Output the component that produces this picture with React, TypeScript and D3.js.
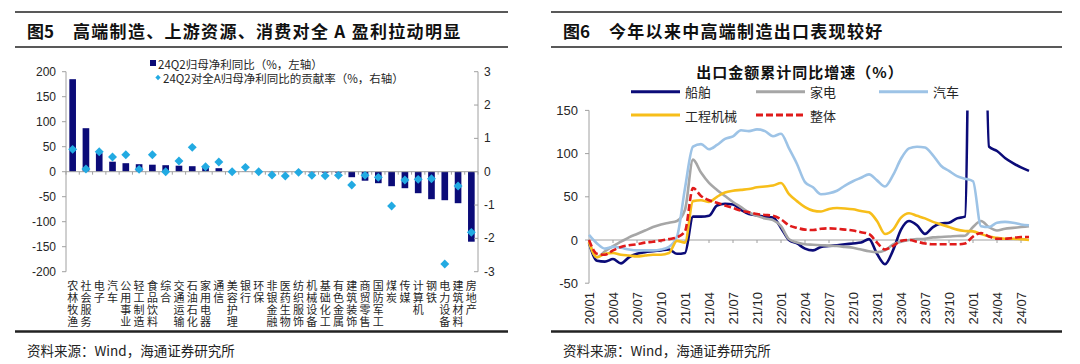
import * as d3 from 'd3'

// ---------- 图5 data ----------
const industries = [
  '农林牧渔', '社会服务', '电子', '汽车', '公用事业', '轻工制造', '食品饮料', '综合', '交通运输', '石油石化',
  '家用电器', '通信', '美容护理', '银行', '环保', '非银金融', '医药生物', '纺织服饰', '机械设备', '基础化工',
  '有色金属', '建筑装饰', '商贸零售', '国防军工', '煤炭', '传媒', '计算机', '钢铁', '电力设备', '建筑材料', '房地产',
]
// 24Q2 归母净利同比 (%, left axis)
const profitYoY = [
  185, 87, 37, 20, 17, 15, 14, 13, 12, 11,
  10, 7, 1, 0.5, 0.3, -1, -1, -1, -1.5, -2,
  -2, -11, -18, -23, -29, -33, -43, -55, -57, -63, -140,
]
// 24Q2 对全A归母净利同比的贡献率 (%, right axis)
const contribution = [
  0.67, 0.08, 0.6, 0.44, 0.51, 0.07, 0.51, 0.0, 0.32, 0.73,
  0.15, 0.29, 0.0, 0.13, 0.0, -0.1, -0.13, -0.02, -0.11, -0.12,
  -0.11, -0.4, -0.11, -0.17, -1.03, -0.25, -0.23, -0.21, -2.77, -0.43, -1.82,
]
const leftAxisTicks = [200, 150, 100, 50, 0, -50, -100, -150, -200]
const rightAxisTicks = [3, 2, 1, 0, -1, -2, -3]

// ---------- 图6 data (monthly, 20/01 .. 24/08) ----------
const monthTickLabels = [
  '20/01', '20/04', '20/07', '20/10', '21/01', '21/04', '21/07', '21/10', '22/01', '22/04',
  '22/07', '22/10', '23/01', '23/04', '23/07', '23/10', '24/01', '24/04', '24/07',
]
const ship = [
  -3, -24, -25, -22, -27, -20, -16, -14, -13, -12, -11, -16, -15, 27, 27, 28, 40, 42, 41, 35,
  30, 28.5, 27, 26, 14, 0, -4, -10, -12, -8, -7, -6, -5, -4, -3, 1, -16, -28, -12, 12,
  22, 17, 7, 15, 19, 20, 25, 27, 600, 560, 108, 103, 95, 89, 84, 80,
]
const appliance = [
  -2, -20, -13, -7, -2, 3, 7, 11, 15, 18, 20, 22, 35, 93, 78, 66, 58, 51, 44, 38,
  32, 28, 25, 23, 16, 1, -3, -5, -5.5, -6, -6.5, -7, -8, -9, -11, -13, -14, -12, -5, -2,
  0, 1, 1.5, 3, 3.5, 4, 4.6, 5, 15, 22, 15, 11, 13, 14, 15, 16,
]
const auto = [
  6, -4, -10, -8, -9, -11, -12, -12, -12, -11, -8, 4, 60, 108, 111, 105, 110, 117, 120, 127,
  126, 128, 126, 120, 123, 106, 88, 67, 61, 53, 54, 57, 63, 68, 72, 76, 69, 62, 75, 94,
  106, 108, 107, 98, 86, 80, 74, 71, 68, 16, 15, 20, 21, 20, 18, 17,
]
const machinery = [
  -2, -20, -16, -15, -17, -18, -19, -18, -17, -17, -15, -1, -3, 45, 46, 44, 50, 55, 57, 58,
  59, 61, 62, 63, 66, 53, 45, 38, 34, 33, 36, 37, 36.5, 35.5, 33.5, 32, 22, 7, 12, 26,
  31, 28, 25, 21, 18, 15, 12, 10.5, 10, 7, 4, 2.5, 1.5, 1.5, 1, 0,
]
const total = [
  0, -16, -17, -12, -8, -6, -5, -3, -2, -0.5, 1, 3, 10, 60, 51, 46, 43, 40, 37, 34,
  32, 30, 29, 28, 24, 17, 14, 12, 11.5, 13, 13.5, 13, 12, 11, 9, 7, -3, -11, -7, -1,
  0, -2, -4, -5, -5, -5, -5, -4, 4, 8, 4, 1.5, 1.5, 2.5, 3.5, 3.5,
]
const exportTicks = [150, 100, 50, 0, -50]

const seriesList = [
  { name: '船舶', values: ship, color: '#0B0B78', dash: '' },
  { name: '家电', values: appliance, color: '#A6A6A6', dash: '' },
  { name: '汽车', values: auto, color: '#9DC3E6', dash: '' },
  { name: '工程机械', values: machinery, color: '#F7BE1A', dash: '' },
  { name: '整体', values: total, color: '#E01B1B', dash: '7,3' },
]

const NUM_FONT = '"Liberation Sans", Arial, "Noto Sans CJK SC", sans-serif'
const CJK_FONT = '"Noto Sans CJK SC", "Liberation Sans", sans-serif'
const TEXT = '#262626'
const AXIS = '#A0A0A0'

function Frame({ x0, x1, num, title }: { x0: number; x1: number; num: string; title: string }) {
  return (
    <g>
      <line x1={x0} x2={x1} y1={12} y2={12} stroke="#222" strokeWidth={1.6} />
      <line x1={x0} x2={x1} y1={47} y2={47} stroke="#222" strokeWidth={1.6} />
      <text x={x0 + 12} y={30} dominantBaseline="central" fontFamily={CJK_FONT} fontWeight={700} fontSize={17} fill="#111">
        {num}
      </text>
      <text x={x0 + 58} y={30} dominantBaseline="central" fontFamily={CJK_FONT} fontWeight={700} fontSize={17} letterSpacing={1.3} fill="#111">
        {title}
      </text>
      <line x1={x0} x2={x1} y1={331.5} y2={331.5} stroke="#222" strokeWidth={2.5} />
      <text x={x0 + 12} y={350} dominantBaseline="central" fontFamily={CJK_FONT} fontSize={13.5} fill="#222">
        资料来源：Wind，海通证券研究所
      </text>
    </g>
  )
}

function ProfitChart() {
  const x = d3.scaleBand<string>().domain(industries).range([66, 478]).paddingInner(0.5).paddingOuter(0.25)
  const yL = d3.scaleLinear().domain([-200, 200]).range([271.7, 71.7])
  const yR = d3.scaleLinear().domain([-3, 3]).range([271.7, 71.7])
  const step = x.step()
  const x0 = x.range()[0]
  const diamond = d3.symbol().type(d3.symbolSquare).size(40)()

  return (
    <g>
      {/* bars */}
      {industries.map((c, i) => (
        <rect
          key={c}
          x={x(c)}
          width={x.bandwidth()}
          y={Math.min(yL(profitYoY[i]), yL(0))}
          height={Math.abs(yL(profitYoY[i]) - yL(0))}
          fill="#0B0B78"
        />
      ))}
      {/* zero line + category ticks */}
      <line x1={66} x2={478} y1={yL(0)} y2={yL(0)} stroke={AXIS} />
      {d3.range(industries.length + 1).map(i => (
        <line key={i} x1={x0 + i * step} x2={x0 + i * step} y1={yL(0)} y2={yL(0) + 3} stroke={AXIS} />
      ))}
      {/* diamonds */}
      {industries.map((c, i) => (
        <path
          key={c}
          d={diamond ?? ''}
          transform={`translate(${x(c)! + x.bandwidth() / 2},${yR(contribution[i])}) rotate(45)`}
          fill="#22AAE2"
        />
      ))}
      {/* left axis */}
      <line x1={66} x2={66} y1={yL(200)} y2={yL(-200)} stroke={AXIS} />
      {leftAxisTicks.map(t => (
        <g key={t}>
          <line x1={62} x2={66} y1={yL(t)} y2={yL(t)} stroke={AXIS} />
          <text x={56} y={yL(t)} textAnchor="end" dominantBaseline="central" fontFamily={NUM_FONT} fontSize={12} fill={TEXT}>
            {t}
          </text>
        </g>
      ))}
      {/* right axis */}
      <line x1={478} x2={478} y1={yR(3)} y2={yR(-3)} stroke={AXIS} />
      {rightAxisTicks.map(t => (
        <g key={t}>
          <line x1={478} x2={474} y1={yR(t)} y2={yR(t)} stroke={AXIS} />
          <text x={484} y={yR(t)} dominantBaseline="central" fontFamily={NUM_FONT} fontSize={12} fill={TEXT}>
            {t}
          </text>
        </g>
      ))}
      {/* vertical category labels, one character per row */}
      {industries.map(c => (
        <g key={c}>
          {c.split('').map((ch, j) => (
            <text
              key={j}
              x={x(c)! + x.bandwidth() / 2}
              y={285 + j * 12}
              textAnchor="middle"
              dominantBaseline="central"
              fontFamily={CJK_FONT}
              fontSize={11}
              fill={TEXT}
            >
              {ch}
            </text>
          ))}
        </g>
      ))}
      {/* legend */}
      <rect x={150} y={60} width={6} height={6} fill="#0B0B78" />
      <text x={158} y={63.5} dominantBaseline="central" fontFamily={CJK_FONT} fontSize={11.5} fill={TEXT}>
        24Q2归母净利同比（%，左轴）
      </text>
      <path d={d3.symbol().type(d3.symbolSquare).size(14)() ?? ''} transform="translate(158,77.5) rotate(45)" fill="#22AAE2" />
      <text x={163} y={77.5} dominantBaseline="central" fontFamily={CJK_FONT} fontSize={11.5} fill={TEXT}>
        24Q2对全A归母净利同比的贡献率（%，右轴）
      </text>
    </g>
  )
}

function ExportChart() {
  const n = ship.length
  const x = d3.scaleLinear().domain([0, n - 1]).range([589, 589 + 8 * (n - 1)])
  const y = d3.scaleLinear().domain([-50, 150]).range([283.2, 110.4])
  const line = d3
    .line<number>()
    .x((_, i) => x(i))
    .y(d => y(d))
    .curve(d3.curveMonotoneX)

  const legendPos = [
    [631, 91.7],
    [756, 91.7],
    [879, 91.7],
    [631, 115],
    [756, 115],
  ]

  return (
    <g>
      <defs>
        <clipPath id="plotClip">
          <rect x={585} y={y(150)} width={460} height={y(-50) - y(150)} />
        </clipPath>
      </defs>
      <text x={800} y={71.7} textAnchor="middle" dominantBaseline="central" fontFamily={CJK_FONT} fontWeight={700} fontSize={15} letterSpacing={1} fill="#111">
        出口金额累计同比增速（%）
      </text>
      {/* axes */}
      <line x1={589} x2={589} y1={y(150)} y2={y(-50)} stroke={AXIS} />
      {exportTicks.map(t => (
        <g key={t}>
          <line x1={585} x2={589} y1={y(t)} y2={y(t)} stroke={AXIS} />
          <text x={578} y={y(t)} textAnchor="end" dominantBaseline="central" fontFamily={NUM_FONT} fontSize={13} fill={TEXT}>
            {t}
          </text>
        </g>
      ))}
      <line x1={589} x2={x(n - 1)} y1={y(0)} y2={y(0)} stroke={AXIS} />
      {monthTickLabels.map((lab, k) => (
        <g key={lab}>
          <line x1={x(k * 3)} x2={x(k * 3)} y1={y(0)} y2={y(0) + 3} stroke={AXIS} />
          <text
            transform={`translate(${x(k * 3)},292) rotate(-90)`}
            textAnchor="end"
            dominantBaseline="central"
            fontFamily={NUM_FONT}
            fontSize={13}
            fill={TEXT}
          >
            {lab}
          </text>
        </g>
      ))}
      {/* series */}
      <g clipPath="url(#plotClip)">
        {seriesList.map(s => (
          <path
            key={s.name}
            d={line(s.values) ?? ''}
            fill="none"
            stroke={s.color}
            strokeWidth={2.6}
            strokeDasharray={s.dash || undefined}
            strokeLinejoin="round"
          />
        ))}
      </g>
      {/* legend */}
      {seriesList.map((s, i) => (
        <g key={s.name}>
          <line
            x1={legendPos[i][0]}
            x2={legendPos[i][0] + 49}
            y1={legendPos[i][1]}
            y2={legendPos[i][1]}
            stroke={s.color}
            strokeWidth={3}
            strokeDasharray={s.dash || undefined}
          />
          <text x={legendPos[i][0] + 54} y={legendPos[i][1]} dominantBaseline="central" fontFamily={CJK_FONT} fontSize={13} fill={TEXT}>
            {s.name}
          </text>
        </g>
      ))}
    </g>
  )
}

export default function App() {
  return (
    <svg
      width={1080}
      height={364}
      viewBox="0 0 1080 364"
      style={{ position: 'fixed', left: 0, top: 0, background: '#fff' }}
    >
      <rect width={1080} height={364} fill="#fff" />
      <Frame x0={15} x1={508} num="图5" title="高端制造、上游资源、消费对全 A 盈利拉动明显" />
      <Frame x0={551} x1={1062} num="图6" title="今年以来中高端制造出口表现较好" />
      <ProfitChart />
      <ExportChart />
    </svg>
  )
}
